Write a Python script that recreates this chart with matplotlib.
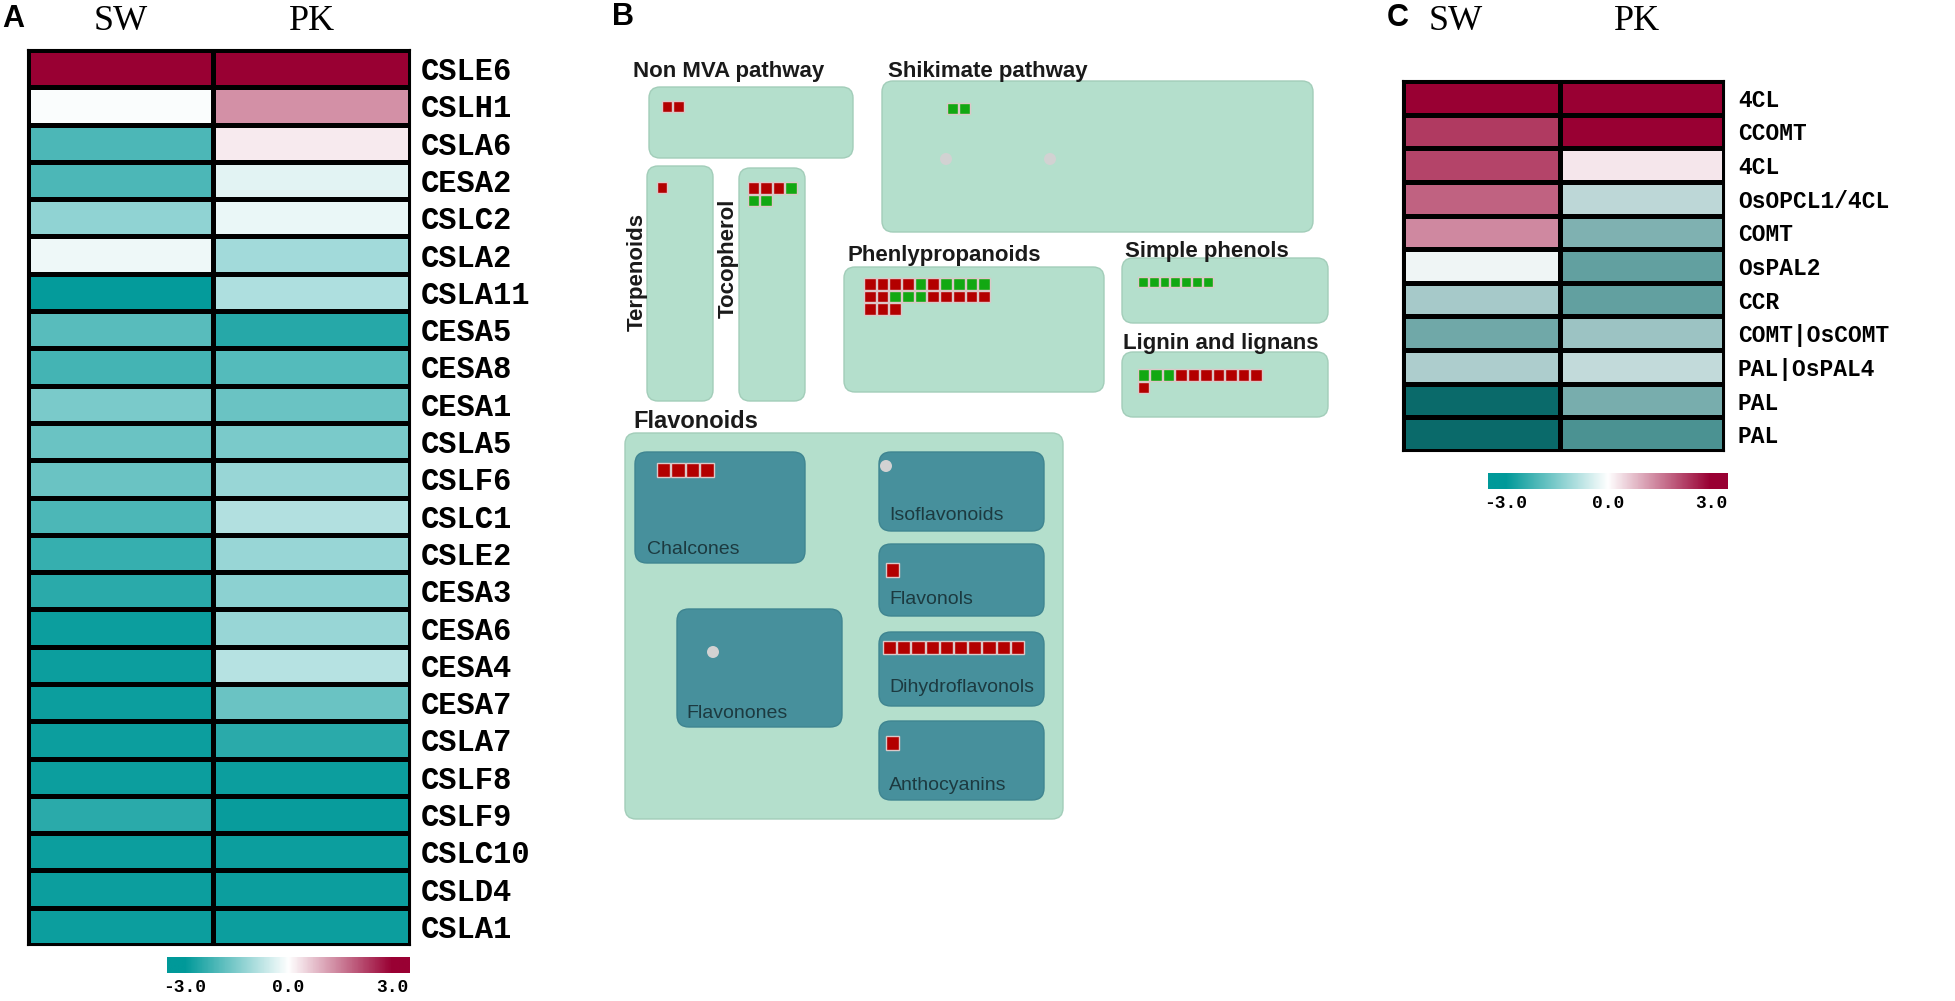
import numpy as np
import matplotlib.pyplot as plt
from matplotlib.colors import LinearSegmentedColormap
from matplotlib.patches import FancyBboxPatch, Rectangle, Circle
from matplotlib.transforms import blended_transform_factory

W, H = 1955, 1001

#######################################################################################
# data

samples = ['SW', 'PK']

genes_a = ['CSLE6', 'CSLH1', 'CSLA6', 'CESA2', 'CSLC2', 'CSLA2', 'CSLA11', 'CESA5',
           'CESA8', 'CESA1', 'CSLA5', 'CSLF6', 'CSLC1', 'CSLE2', 'CESA3', 'CESA6',
           'CESA4', 'CESA7', 'CSLA7', 'CSLF8', 'CSLF9', 'CSLC10', 'CSLD4', 'CSLA1']
sw_a = [3.0, -0.05, -2.1, -2.1, -1.3, -0.2, -2.95, -1.95,
        -2.2, -1.55, -1.75, -1.75, -2.1, -2.35, -2.5, -2.85,
        -2.85, -2.85, -2.85, -2.85, -2.5, -2.85, -2.85, -2.85]
pk_a = [3.0, 1.3, 0.25, -0.35, -0.25, -1.1, -0.95, -2.55,
        -2.0, -1.75, -1.55, -1.2, -0.9, -1.2, -1.35, -1.2,
        -0.85, -1.75, -2.5, -2.85, -2.9, -2.85, -2.85, -2.85]

genes_c = ['4CL', 'CCOMT', '4CL', 'OsOPCL1/4CL', 'COMT', 'OsPAL2', 'CCR',
           'COMT|OsCOMT', 'PAL|OsPAL4', 'PAL', 'PAL']
sw_c = [3.0, 2.3, 2.2, 1.85, 1.4, -0.2, -1.1, -1.75, -1.0, -3.0, -3.0]
pk_c = [3.0, 3.0, 0.3, -0.8, -1.55, -1.9, -1.9, -1.2, -0.75, -1.65, -2.2]

cbar_ticks = [-3, 0, 3]
cbar_labels = ['-3.0', '0.0', '3.0']

# panel B: up (r) / down (g) regulated genes per pathway box
nonmva_sq = [['r', 'r']]
terp_sq = [['r']]
toco_sq = [['r', 'r', 'r', 'g'], ['g', 'g']]
shik_sq = [['g', 'g']]
phenyl_sq = [list('rrrrgrgggg'), list('rrgggrrrrr'), list('rrr')]
simple_sq = [list('ggggggg')]
lignin_sq = [list('gggrrrrrrr'), ['r']]
chalcone_sq = [list('rrrr')]
flavonol_sq = [['r']]
dihydro_sq = [list('rrrrrrrrrr')]
antho_sq = [['r']]

#######################################################################################

cmap_a = LinearSegmentedColormap.from_list('a', ['#009999', '#ffffff', '#990033'])
cmap_c = LinearSegmentedColormap.from_list('c', ['#0a6a6a', '#ffffff', '#990033'])

RED = '#b30000'
GREEN = '#12a812'
MINT = '#b4dfcc'
MINT_EDGE = '#a2cdb9'
DARK = '#47909c'

mono = 'Liberation Mono'
serif = 'Liberation Serif'
sans = 'Liberation Sans'

fig = plt.figure(figsize=(W / 100, H / 100), dpi=100)


def px_axes(x0, y0, x1, y1):
    return fig.add_axes([x0 / W, 1 - y1 / H, (x1 - x0) / W, (y1 - y0) / H])


def heatmap(box, sw, pk, genes, cmap, label_size, col_edges, pad, name_shift=(0, 0)):
    ax = px_axes(*box)
    values = np.column_stack([sw, pk])
    rows = np.arange(len(genes) + 1)
    ax.pcolormesh(col_edges, rows, values, cmap=cmap, vmin=-3, vmax=3,
                  edgecolors='black', linewidth=2.2)
    ax.set_xlim(col_edges[0], col_edges[-1])
    ax.set_ylim(len(genes), 0)
    ax.set_xticks([])
    ax.yaxis.tick_right()
    ax.set_yticks(np.arange(len(genes)) + 0.5)
    ax.set_yticklabels(genes, family=mono, weight='bold', fontsize=label_size)
    ax.tick_params(axis='y', length=0, pad=pad)
    for s in ax.spines.values():
        s.set_linewidth(1.5)
    trans = blended_transform_factory(ax.transData, fig.transFigure)
    for i, name in enumerate(samples):
        xc = (col_edges[i] + col_edges[i + 1]) / 2 + name_shift[i]
        ax.text(xc, 1 - 22 / H, name, transform=trans, ha='center', va='center',
                family=serif, fontsize=26)
    return ax


def colorbar(box):
    cax = px_axes(*box)
    grad = np.linspace(-3.5, 3.5, 256)
    cax.imshow(grad[None, :], aspect='auto', cmap=cmap_a, vmin=-3, vmax=3,
               extent=[-3.5, 3.5, 0, 1])
    cax.set_yticks([])
    cax.set_xticks(cbar_ticks)
    cax.set_xticklabels(cbar_labels, family=mono, weight='bold', fontsize=13)
    cax.tick_params(axis='x', length=0, pad=4)
    for s in cax.spines.values():
        s.set_visible(False)


#######################################################################################
# panel B, drawn in pixel coordinates

axb = fig.add_axes([0, 0, 1, 1])
axb.set_xlim(0, W)
axb.set_ylim(H, 0)
axb.axis('off')


def box(x0, y0, x1, y1, color=MINT, edge=MINT_EDGE, r=11):
    axb.add_patch(FancyBboxPatch((x0, y0), x1 - x0, y1 - y0,
                                 boxstyle='round,pad=0,rounding_size=%d' % r,
                                 fc=color, ec=edge, lw=1))


def squares(x0, y0, rows, pitch):
    for j, row in enumerate(rows):
        for i, c in enumerate(row):
            axb.add_patch(Rectangle((x0 + i * pitch, y0 + j * pitch), pitch - 1, pitch - 1,
                                    fc=RED if c == 'r' else GREEN, ec='#dcc8c8', lw=1))


def dot(x, y):
    axb.add_patch(Circle((x, y), 6, fc='#d2d2d2', ec='none'))


def header(x, y, s, size=16, **kw):
    axb.text(x, y, s, family=sans, weight='bold', fontsize=size, color='#1a1a1a',
             va='center', **kw)


def sub_label(x, y, s):
    axb.text(x, y, s, family=sans, fontsize=14, color='#1c3a40', ha='left', va='center')


# Non MVA
header(633, 71, 'Non MVA pathway', ha='left')
box(649, 87, 853, 158)
squares(662, 101, nonmva_sq, 11.5)

# Shikimate
header(888, 71, 'Shikimate pathway', ha='left')
box(882, 81, 1313, 232)
squares(947, 103, shik_sq, 12)
dot(946, 159)
dot(1050, 159)

# Terpenoids / Tocopherol
box(647, 166, 713, 401)
header(637, 272, 'Terpenoids', ha='center', rotation=90)
squares(657, 182, terp_sq, 11.5)
box(739, 168, 805, 401)
header(728, 258, 'Tocopherol', ha='center', rotation=90)
squares(748, 182, toco_sq, 12.5)

# Phenylpropanoids
header(848, 255, 'Phenlypropanoids', ha='left')
box(844, 267, 1104, 392)
squares(864, 278, phenyl_sq, 12.7)

# Simple phenols / lignin
header(1125, 251, 'Simple phenols', ha='left')
box(1122, 258, 1328, 323)
squares(1138, 277, simple_sq, 10.8)
header(1123, 344, 'Lignin and lignans', ha='left')
box(1122, 352, 1328, 417)
squares(1138, 369, lignin_sq, 12.5)

# Flavonoids
header(633, 421, 'Flavonoids', size=17, ha='left')
box(625, 433, 1063, 819)
box(635, 452, 805, 563, DARK, '#3f8591', 12)
squares(657, 463, chalcone_sq, 14.5)
sub_label(647, 549, 'Chalcones')
box(677, 609, 842, 727, DARK, '#3f8591', 12)
dot(713, 652)
sub_label(686, 713, 'Flavonones')
box(879, 452, 1044, 531, DARK, '#3f8591', 12)
dot(886, 466)
sub_label(889, 516, 'Isoflavonoids')
box(879, 544, 1044, 616, DARK, '#3f8591', 12)
squares(886, 563, flavonol_sq, 14.5)
sub_label(889, 600, 'Flavonols')
box(879, 632, 1044, 706, DARK, '#3f8591', 12)
squares(883, 641, dihydro_sq, 14.2)
sub_label(889, 688, 'Dihydroflavonols')
box(879, 721, 1044, 800, DARK, '#3f8591', 12)
squares(886, 736, antho_sq, 14.5)
sub_label(889, 786, 'Anthocyanins')

#######################################################################################
# panels A and C

heatmap((28, 50, 410, 945), sw_a, pk_a, genes_a, cmap_a, 22, [0, 1, 2.06], 8)
colorbar((167, 957, 410, 973))

heatmap((1403, 81, 1724, 451), sw_c, pk_c, genes_c, cmap_c, 16.5, [0, 1, 2.05], 10,
        name_shift=(-0.16, -0.03))
colorbar((1488, 473, 1728, 489))

for x, y, s in [(13, 19, 'A'), (623, 17, 'B'), (1398, 18, 'C')]:
    fig.text(x / W, 1 - y / H, s, family=sans, weight='bold', fontsize=22,
             ha='center', va='center')

fig.savefig('out.png', dpi=100)
